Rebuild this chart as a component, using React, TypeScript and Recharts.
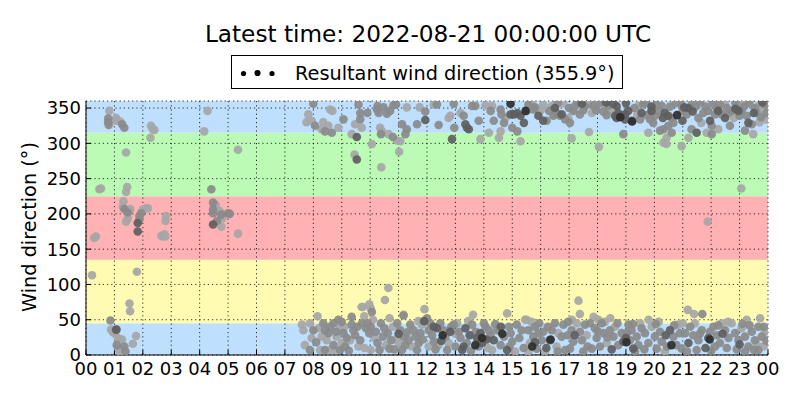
import React from 'react';
import { ScatterChart, Scatter, XAxis, YAxis, CartesianGrid, ReferenceArea } from 'recharts';

const hourTicks = [0, 1, 2, 3, 4, 5, 6, 7, 8, 9, 10, 11, 12, 13, 14, 15, 16, 17, 18, 19, 20, 21, 22, 23, 24];
const degTicks = [0, 50, 100, 150, 200, 250, 300, 350];
const sectorRanges = [[0, 45], [45, 135], [135, 225], [225, 315], [315, 360]];
const sectorColors = ['#bfdfff', '#fffbb3', '#ffb1b3', '#bbfbb5', '#bfdfff'];

const titleText = 'Latest time: 2022-08-21 00:00:00 UTC';
const legendText = 'Resultant wind direction (355.9°)';
const yLabel = 'Wind direction (°)';

// [hour, direction] by shade (darker = stronger wind)
const lightPts = [
  [0.21, 113], [0.29, 166], [0.35, 168], [0.47, 235], [0.53, 236], [0.82, 346], [1.06, 336], [1.04, 332], [1.2, 331],
  [1.32, 218], [1.29, 210], [1.41, 189], [1.45, 238], [1.41, 231], [1.41, 287], [1.53, 73], [1.55, 62], [1.79, 118],
  [1.65, 16], [1.76, 27], [0.88, 36], [0.94, 33], [1.0, 31], [1.12, 24], [1.18, 22], [1.27, 22], [1.14, 9], [1.18, 5],
  [2.0, 206], [2.12, 208], [2.18, 208], [2.29, 325], [2.35, 320], [2.41, 319], [2.27, 308], [2.65, 169], [2.7, 168],
  [2.76, 171], [2.79, 168], [2.82, 197], [2.8, 190], [4.16, 317], [4.28, 346], [4.7, 204], [4.76, 182], [4.8, 194],
  [5.35, 291], [5.35, 172], [4.56, 213], [1.56, 207], [1.47, 194],
  [7.82, 341], [7.94, 332], [7.76, 330], [8.29, 320], [8.35, 330], [8.53, 325], [8.59, 348], [8.67, 346], [8.88, 322],
  [9.35, 313], [9.47, 327], [9.7, 322], [9.45, 284], [10.06, 299], [10.39, 266], [10.35, 322], [10.41, 317], [10.65, 313],
  [10.94, 304], [11.02, 288], [11.06, 303], [11.29, 351], [11.74, 351], [12.24, 355], [12.76, 336], [12.82, 339],
  [13.18, 343], [13.88, 306], [14.06, 354], [14.29, 353], [14.18, 315], [14.59, 317], [14.76, 336], [14.53, 308], [15.29, 303],
  [15.68, 358], [16.09, 355], [16.39, 353], [16.97, 336], [17.09, 307], [17.7, 316], [18.05, 295], [17.68, 355], [19.44, 353],
  [19.79, 315], [20.43, 308], [20.32, 301], [20.43, 299], [20.96, 296], [21.2, 308], [21.84, 315], [22.25, 320], [22.49, 355],
  [23.66, 353], [23.84, 348], [23.48, 313], [22.96, 354], [23.06, 236], [21.88, 189],
  [16.0, 347], [16.8, 357], [17.8, 343], [18.45, 347], [19.4, 340], [21.65, 329], [22.8, 336], [23.2, 357], [23.7, 330], [23.92, 334],
  [7.6, 43], [7.65, 35], [7.7, 14], [7.88, 45], [7.94, 24], [8.15, 55], [8.29, 26], [8.47, 21], [8.24, 7], [8.59, 7], [8.76, 7],
  [8.94, 38], [8.82, 26], [9.0, 17], [9.29, 21], [9.59, 12], [9.74, 68], [9.79, 55], [9.97, 72], [10.02, 66], [9.7, 68],
  [10.15, 24], [10.02, 7], [10.52, 78], [10.64, 95], [10.56, 14], [10.68, 52], [11.01, 17], [11.18, 57], [11.47, 12], [11.82, 43],
  [11.91, 65], [12.06, 12], [12.76, 17], [13.06, 45], [13.62, 57], [14.29, 7], [14.82, 59], [15.45, 50],
  [8.2, 38], [9.1, 40], [9.8, 10], [10.9, 22], [11.7, 48], [12.4, 14], [13.0, 30], [13.45, 48], [14.15, 10], [15.1, 5], [10.1, 50], [10.8, 40],
  [15.51, 50], [15.68, 47], [15.62, 17], [15.57, 5], [16.62, 31], [16.56, 12], [17.33, 77], [17.38, 58], [17.27, 45], [17.62, 28],
  [17.86, 54], [18.03, 50], [18.26, 47], [18.32, 17], [18.62, 40], [19.5, 45], [19.91, 40], [20.37, 5], [20.84, 43], [21.18, 64],
  [21.4, 58], [21.43, 45], [22.37, 45], [22.72, 45], [23.07, 38], [23.72, 52], [23.89, 33], [23.84, 12],
  [16.15, 5], [17.1, 50], [18.45, 52], [19.8, 50], [20.15, 47], [21.0, 45], [22.6, 47], [23.25, 50], [23.6, 15],
];

const midPts = [
  [0.78, 330], [0.78, 335], [0.8, 326], [1.35, 322], [1.27, 327], [1.47, 202], [1.35, 207], [1.88, 197], [1.94, 201], [1.88, 192],
  [4.47, 216], [4.47, 206], [4.47, 201], [4.61, 190], [4.76, 199], [5.0, 201], [5.06, 200], [4.41, 235], [0.86, 49], [1.08, 36],
  [1.35, 12], [1.39, 5], [1.08, 14],
  [8.0, 356], [8.06, 325], [8.41, 317], [8.65, 315], [9.06, 334], [9.65, 334], [9.59, 355], [9.65, 343], [9.9, 343], [10.24, 348],
  [10.3, 343], [10.26, 353], [10.47, 351], [10.59, 342], [10.7, 346], [10.82, 354], [10.91, 355], [10.38, 313], [10.8, 309],
  [11.12, 327], [11.29, 320], [11.24, 313], [11.65, 327], [11.94, 345], [12.35, 355], [12.41, 326], [12.94, 356], [12.96, 322],
  [13.29, 339], [13.59, 353], [13.7, 353], [13.82, 332], [14.24, 346], [14.35, 332], [14.59, 348], [14.62, 341], [14.71, 329],
  [15.0, 322], [15.18, 317],
  [15.51, 346], [15.57, 355], [15.74, 348], [16.21, 332], [16.45, 339], [16.56, 343], [16.68, 339], [16.86, 334], [17.03, 329],
  [17.15, 346], [17.21, 353], [17.38, 341], [17.56, 353], [17.85, 354], [18.32, 340], [18.38, 353], [18.91, 313], [19.5, 334],
  [19.61, 355], [19.85, 334], [19.96, 329], [20.02, 339], [20.08, 355], [20.26, 353], [20.61, 336], [20.2, 318], [20.32, 320],
  [20.49, 325], [20.67, 329], [20.61, 315], [20.96, 355], [21.31, 355], [21.14, 341], [21.31, 320], [21.55, 336], [21.72, 343],
  [21.9, 346], [22.02, 325], [22.14, 341], [22.2, 350], [22.37, 341], [22.61, 343], [22.72, 346], [22.66, 325], [23.07, 346],
  [23.19, 318], [23.25, 339], [23.43, 327], [23.54, 350], [23.89, 355], [22.02, 313],
  [15.8, 351], [16.3, 346], [16.6, 357], [17.0, 350], [17.3, 358], [17.5, 347], [17.95, 347], [18.1, 357], [18.2, 345], [19.3, 350],
  [19.7, 358], [19.75, 340], [20.15, 346], [20.55, 352], [20.75, 357], [21.0, 346], [21.45, 352], [21.6, 358], [21.8, 352],
  [22.05, 357], [22.3, 355], [22.55, 350], [22.85, 357], [23.0, 339], [23.15, 352], [23.35, 357], [23.6, 343], [23.75, 337], [23.95, 343],
  [7.88, 7], [8.0, 35], [8.35, 45], [8.41, 35], [8.53, 31], [8.59, 40], [8.71, 45], [8.41, 7], [8.94, 7], [8.71, 14], [8.88, 50],
  [9.0, 47], [9.06, 31], [9.18, 24], [9.12, 12], [9.35, 54], [9.35, 43], [9.41, 35], [9.47, 28], [9.65, 21], [9.71, 45], [10.06, 61],
  [9.91, 45], [10.02, 40], [9.97, 31], [10.26, 17], [9.85, 38], [10.38, 45], [10.5, 38], [10.62, 31], [10.74, 21], [10.33, 7],
  [10.68, 9], [10.95, 45], [11.06, 35], [11.18, 26], [11.24, 14], [11.12, 7], [11.35, 21], [11.41, 43], [11.53, 35], [11.59, 26],
  [11.71, 17], [11.65, 7], [11.77, 31], [12.0, 52], [12.12, 45], [12.06, 35], [12.18, 28], [12.24, 19], [12.47, 45], [12.59, 35],
  [12.65, 26], [12.94, 43], [13.0, 12], [12.71, 7], [13.12, 33], [13.18, 24], [13.59, 43], [13.71, 33], [13.82, 12], [14.06, 40],
  [14.0, 45], [14.18, 35], [14.24, 28], [14.47, 35], [14.59, 14], [14.71, 26], [14.94, 31], [14.88, 40], [15.0, 19], [15.16, 43],
  [15.33, 35], [11.17, 56],
  [8.1, 18], [8.8, 33], [9.25, 6], [9.55, 40], [10.2, 33], [10.45, 26], [10.85, 8], [11.3, 32], [11.85, 22], [12.3, 8], [12.85, 40],
  [13.4, 17], [13.55, 6], [14.4, 44], [14.9, 12], [15.25, 24], [15.4, 10],
  [15.57, 35], [15.8, 40], [15.74, 26], [15.86, 9], [16.04, 21], [15.92, 31], [16.09, 33], [16.39, 35], [16.5, 45], [16.74, 26],
  [16.8, 43], [16.86, 7], [16.97, 47], [17.09, 35], [17.15, 19], [17.03, 9], [17.38, 33], [17.45, 21], [17.56, 43], [17.5, 5],
  [17.74, 45], [17.91, 38], [18.15, 45], [17.97, 24], [18.09, 12], [18.21, 31], [17.8, 9], [18.44, 35], [18.56, 26], [18.73, 14],
  [18.85, 31], [19.03, 31], [19.09, 43], [19.2, 35], [19.14, 21], [19.38, 26], [19.55, 38], [19.44, 14], [19.32, 5], [19.67, 31],
  [19.79, 17], [20.02, 26], [20.08, 9], [20.2, 33], [20.26, 19], [20.67, 26], [20.9, 31], [20.78, 14], [20.96, 9], [21.08, 31],
  [21.26, 40], [21.37, 28], [21.55, 21], [21.67, 35], [21.49, 7], [21.96, 33], [22.08, 40], [22.2, 28], [22.49, 35], [22.31, 17],
  [22.14, 12], [22.61, 24], [22.84, 31], [22.96, 21], [23.19, 26], [23.31, 12], [23.43, 33], [23.54, 21], [23.66, 40], [23.78, 26],
  [23.66, 7], [23.19, 5], [21.69, 58],
  [15.95, 45], [16.25, 40], [16.6, 5], [16.95, 28], [17.65, 12], [18.0, 34], [18.35, 25], [18.7, 45], [19.25, 44], [19.65, 8],
  [20.05, 44], [20.45, 12], [20.7, 42], [21.15, 5], [21.6, 30], [22.0, 6], [22.25, 42], [22.55, 10], [22.9, 8], [23.1, 44],
  [23.35, 42], [23.5, 7], [23.85, 40], [23.95, 20],
];

const darkPts = [
  [1.82, 187], [1.82, 175], [4.47, 185], [1.06, 36],
  [9.53, 309], [9.53, 277], [11.94, 333], [12.88, 306], [13.35, 327], [13.41, 322], [13.47, 320], [14.94, 341], [15.06, 341],
  [15.18, 343], [15.29, 339], [15.41, 329],
  [15.92, 339], [16.09, 332], [16.74, 341], [18.56, 356], [18.67, 353], [18.73, 343], [18.85, 339], [18.97, 341], [19.08, 346],
  [19.2, 332], [18.97, 334], [18.67, 336], [18.62, 339], [19.55, 343], [19.9, 346], [20.37, 343], [20.49, 339], [20.99, 332],
  [21.2, 350], [21.49, 315], [21.96, 332], [22.49, 336], [22.96, 346], [23.31, 329],
  [16.5, 350], [17.45, 356], [18.3, 358], [19.0, 357], [19.9, 352], [20.3, 336], [21.05, 351], [21.35, 345], [22.25, 346],
  [22.85, 349], [23.5, 343], [23.8, 358],
  [12.35, 38], [12.82, 33], [13.29, 12], [13.35, 38], [13.24, 7], [13.76, 24], [13.88, 31], [13.94, 17], [14.35, 21], [14.82, 7],
  [12.24, 40], [12.5, 20], [13.5, 28], [14.1, 22], [14.6, 40], [11.9, 48], [11.0, 30],
  [16.33, 21], [18.91, 19], [19.26, 9], [20.55, 35], [21.2, 17], [21.9, 24], [19.0, 24], [18.5, 8], [20.4, 28], [21.8, 10],
  [22.4, 30], [23.0, 15], [17.2, 28], [16.2, 10], [15.8, 18],
];

const blackPts = [
  [14.94, 356], [15.47, 346], [18.8, 337], [19.22, 331], [20.8, 340],
  [13.94, 24], [13.7, 14], [14.65, 30], [12.55, 28],
  [16.35, 22], [19.02, 18], [21.95, 22], [20.6, 14], [15.7, 12],
];

const toRows = (pts: number[][]) => pts.map(([h, d]) => ({ h, d }));

const FONT = '"DejaVu Sans", sans-serif';

const makeDot = (fill: string) => (props: any) => (
  <circle cx={props.cx} cy={props.cy} r={4.3} fill={fill} fillOpacity={0.92} />
);

const fmtHour = (v: number) => String(v % 24).padStart(2, '0');

export default function App() {
  return (
    <div style={{ position: 'absolute', left: 0, top: 0, width: 800, height: 400, background: '#fff' }}>
      <ScatterChart width={800} height={400} margin={{ top: 101, right: 32, bottom: 0, left: 0 }}>
        {sectorRanges.map(([a, b], i) => (
          <ReferenceArea
            key={i}
            y1={a}
            y2={b}
            fill={sectorColors[i]}
            fillOpacity={1}
            stroke="none"
            ifOverflow="hidden"
            zIndex={-200}
          />
        ))}
        <CartesianGrid stroke="#000" strokeDasharray="1.2 3" strokeWidth={0.8} />
        <XAxis
          dataKey="h"
          type="number"
          domain={[0, 24]}
          ticks={hourTicks}
          interval={0}
          allowDataOverflow
          tickFormatter={fmtHour}
          height={45}
          tickSize={-5}
          tickMargin={12}
          axisLine={{ stroke: '#000' }}
          tickLine={{ stroke: '#000' }}
          tick={{ fill: '#000', fontSize: 18, fontFamily: FONT }}
        />
        <XAxis
          xAxisId="top"
          orientation="top"
          type="number"
          domain={[0, 24]}
          ticks={hourTicks}
          interval={0}
          allowDataOverflow
          tickFormatter={() => ''}
          height={0}
          tickSize={-5}
          axisLine={{ stroke: '#000' }}
          tickLine={{ stroke: '#000' }}
        />
        <YAxis
          dataKey="d"
          type="number"
          domain={[0, 360]}
          ticks={degTicks}
          interval={0}
          allowDataOverflow
          width={86}
          tickSize={-5}
          tickMargin={10}
          axisLine={{ stroke: '#000' }}
          tickLine={{ stroke: '#000' }}
          tick={{ fill: '#000', fontSize: 18, fontFamily: FONT }}
        />
        <YAxis
          yAxisId="right"
          orientation="right"
          type="number"
          domain={[0, 360]}
          ticks={degTicks}
          interval={0}
          allowDataOverflow
          width={0}
          tickSize={-5}
          tickFormatter={() => ''}
          axisLine={{ stroke: '#000' }}
          tickLine={{ stroke: '#000' }}
        />
        <Scatter data={toRows(lightPts)} shape={makeDot('#a6a6a6')} isAnimationActive={false} />
        <Scatter data={toRows(midPts)} shape={makeDot('#8a8a8a')} isAnimationActive={false} />
        <Scatter data={toRows(darkPts)} shape={makeDot('#5e5e5e')} isAnimationActive={false} />
        <Scatter data={toRows(blackPts)} shape={makeDot('#2e2e2e')} isAnimationActive={false} />
      </ScatterChart>
      <svg
        width={800}
        height={400}
        style={{ position: 'absolute', left: 0, top: 0, pointerEvents: 'none' }}
        fontFamily={FONT}
      >
        <text x={428} y={42} textAnchor="middle" fontSize={23.2} fill="#000">{titleText}</text>
        <rect x={231.5} y={55.5} width={391} height={33} fill="#fff" stroke="#000" strokeWidth={1} />
        <circle cx={243.5} cy={73.5} r={2.6} fill="#000" />
        <circle cx={257.5} cy={73} r={3.1} fill="#000" />
        <circle cx={272} cy={73.5} r={2.6} fill="#000" />
        <text x={295} y={80} fontSize={19.3} fill="#000">{legendText}</text>
        <text x={36} y={227} textAnchor="middle" fontSize={19.3} fill="#000" transform="rotate(-90 36 227)">{yLabel}</text>
      </svg>
    </div>
  );
}
